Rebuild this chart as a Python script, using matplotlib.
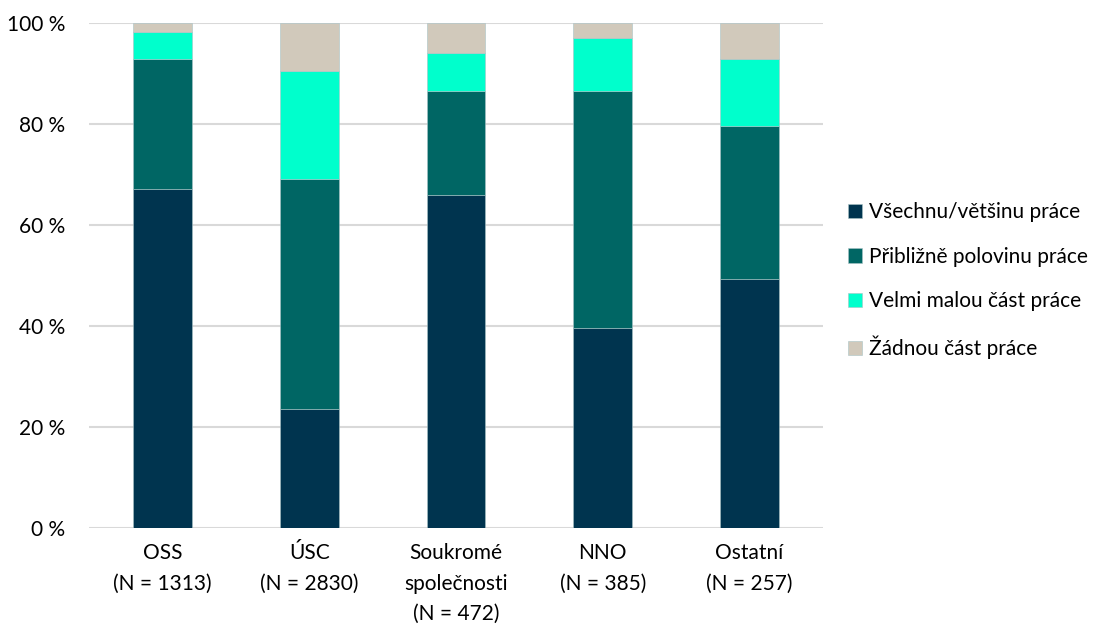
import matplotlib.pyplot as plt
import numpy as np

plt.rcParams['font.family'] = ['Lato', 'DejaVu Sans']

categories = ["OSS\n(N = 1313)", "ÚSC\n(N = 2830)", "Soukromé\nspolečnosti\n(N = 472)",
              "NNO\n(N = 385)", "Ostatní\n(N = 257)"]
series_names = ["Všechnu/většinu práce", "Přibližně polovinu práce",
                "Velmi malou část práce", "Žádnou část práce"]

vsechnu = [67.2, 23.6, 66.1, 39.7, 49.4]
polovinu = [25.7, 45.5, 20.5, 46.9, 30.3]
malou = [5.4, 21.5, 7.5, 10.5, 13.2]
zadnou = [1.7, 9.4, 5.9, 2.9, 7.1]

colors = ["#00344f", "#006664", "#00ffcc", "#d1c9bb"]

fig = plt.figure(figsize=(11, 6.26), dpi=100)
ax = fig.add_axes([0.081, 0.1565, 0.667, 0.806])

x = np.arange(len(categories))
bottom = np.zeros(len(categories))
for name, vals, col in zip(series_names, [vsechnu, polovinu, malou, zadnou], colors):
    ax.bar(x, vals, width=0.4, bottom=bottom, color=col, label=name,
           edgecolor="#a9c3c6", linewidth=0.4, zorder=3)
    bottom += np.array(vals)

ax.set_xlim(-0.5, len(categories) - 0.5)
ax.set_ylim(0, 100)
ax.set_yticks([0, 20, 40, 60, 80, 100])
ax.set_yticklabels([f"{v} %" for v in [0, 20, 40, 60, 80, 100]])
ax.set_xticks(x)
ax.set_xticklabels(categories, linespacing=1.65)
ax.tick_params(axis="both", length=0, labelsize=15, colors="#000000")
ax.tick_params(axis="y", pad=17)
ax.tick_params(axis="x", pad=11)
ax.grid(axis="y", color="#d9d9d9", linewidth=1.5, zorder=0)
for s in ax.spines.values():
    s.set_visible(False)

ax.legend(loc="center left", bbox_to_anchor=(1.0, 0.49), frameon=False,
          fontsize=15, handlelength=0.7, handleheight=0.7, handletextpad=0.3,
          labelspacing=1.17, borderaxespad=0.8)

fig.savefig("out.png", dpi=100)
